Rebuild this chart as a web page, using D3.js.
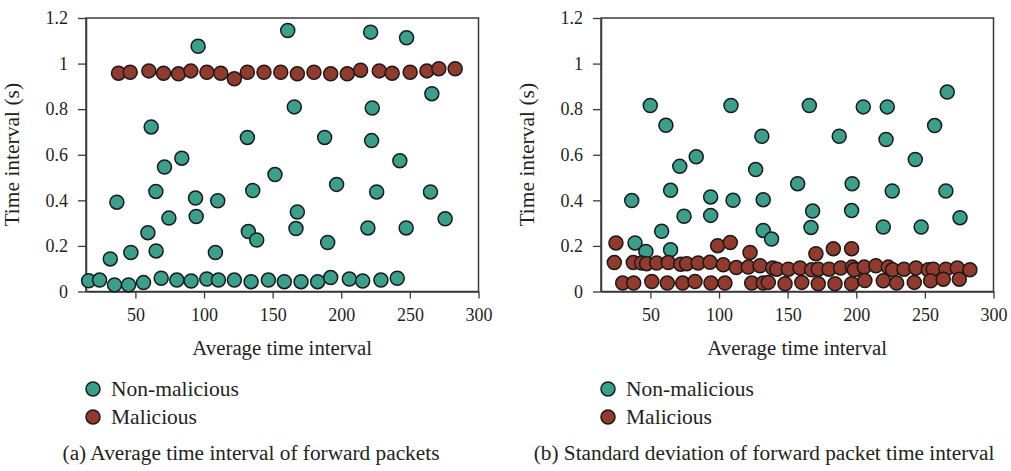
<!DOCTYPE html>
<html>
<head>
<meta charset="utf-8">
<script src="https://cdn.jsdelivr.net/npm/d3@7"></script>
<style>
  body { margin: 0; background: #fff; }
</style>
</head>
<body>
<div id="chart"></div>
<script>
// x: average time interval, y: time interval (s)
const aNonMalicious = [
  [15.9, .047], [23.9, .05], [31.7, .143], [34.8, .029], [36.5, .392], [45, .029], [46.7, .171],
  [55.9, .039], [59.1, .258], [61.5, .722], [64.9, .439], [65.1, .178], [68.8, .058], [71.2, .546],
  [74.4, .322], [80.2, .05], [83.8, .585], [90.6, .046], [93.8, .41], [94.3, .329], [95.7, 1.076],
  [102, .055], [108.3, .171], [110, .398], [110.5, .05], [122.1, .05], [131.6, .676], [132.3, .263],
  [134.3, .043], [135.5, .443], [138.4, .226], [146.9, .05], [151.7, .513], [158.5, .043],
  [161, 1.145], [165.8, .81], [167, .276], [168, .349], [170.7, .043], [182.8, .043], [187.9, .676],
  [190.1, .215], [192.3, .061], [196.6, .47], [205.9, .055], [215.6, .046], [219.4, .279],
  [221.4, 1.138], [222.1, .662], [222.6, .805], [225.8, .437], [228.9, .05], [240.8, .058],
  [242.7, .574], [247.3, .279], [247.6, 1.113], [265, .437], [266, .868], [275.7, .319]
];
const aMalicious = [
  [37.7, .958], [46.2, .962], [59.8, .968], [70.5, .958], [81.4, .955], [90.4, .968], [102.1, .962],
  [112.2, .958], [122.1, .933], [131.6, .962], [143.7, .962], [155.9, .962], [168, .955],
  [180.1, .962], [192.3, .955], [204.4, .955], [214.1, .971], [227.7, .968], [237.1, .958],
  [250.2, .962], [262.4, .968], [271.1, .977], [283, .977]
];
const bNonMalicious = [
  [36.4, .399], [38.8, .213], [46.7, .176], [49.9, .816], [58.2, .264], [61.3, .729], [64.7, .183],
  [64.7, .444], [71.4, .549], [74.5, .33], [83.4, .591], [93.9, .415], [93.9, .334], [108.7, .816],
  [110.2, .4], [126.7, .535], [131.2, .681], [132.2, .403], [132.2, .268], [138.3, .23],
  [157.3, .473], [165.8, .816], [167, .281], [168.2, .353], [187.6, .681], [196.6, .355],
  [197, .473], [205.1, .81], [219.7, .283], [221.7, .667], [222.6, .81], [226.2, .441],
  [243, .579], [247.3, .283], [257.1, .728], [265.3, .441], [266.3, .875], [275.6, .324]
];
const bMalicious = [
  [24.9, .213], [99, .201], [108.2, .215], [122.6, .171], [170.6, .166], [183.3, .188], [196.6, .188],
  [23.7, .127], [37.5, .127], [43.6, .125], [47.2, .122], [54.6, .125], [63, .127], [72.1, .12],
  [76.4, .122], [84.8, .125], [93.4, .128], [103.1, .117], [112.6, .105], [121.3, .107],
  [129.9, .113], [139.1, .103], [142.1, .098], [150.5, .098], [159, .103], [167.5, .095],
  [172.3, .098], [180.2, .098], [188.6, .103], [197.1, .107], [198.6, .095], [205.8, .107],
  [214.3, .113], [223.3, .107], [226.5, .095], [234.8, .098], [243.5, .103], [252.5, .095],
  [256.1, .098], [265.3, .098], [273.6, .103], [282.8, .095],
  [29.8, .037], [37.8, .037], [51, .044], [62.3, .037], [73.5, .037], [82.5, .044], [94.1, .037],
  [104.3, .037], [123.8, .037], [132.2, .037], [135.9, .04], [148.1, .034], [160.3, .04],
  [172.3, .034], [184.5, .034], [196.6, .034], [206.3, .048], [219.7, .047], [229.4, .037],
  [242.3, .04], [254.2, .047], [263.4, .054], [275.1, .054]
];

const xTicks = [50, 100, 150, 200, 250, 300];
const yTicks = [0, 0.2, 0.4, 0.6, 0.8, 1, 1.2];
const seriesNames = ["Non-malicious", "Malicious"];
const seriesColors = ["#3a9f8b", "#933a2e"];
const captions = [
  "(a) Average time interval of forward packets",
  "(b) Standard deviation of forward packet time interval"
];

const font = "'Liberation Serif', 'DejaVu Serif', serif";
const ink = "#231f20";

const width = 1011;
const height = 471;
const svg = d3.select("#chart").append("svg")
  .attr("width", width)
  .attr("height", height)
  .attr("font-family", font);
svg.append("rect").attr("width", width).attr("height", height).attr("fill", "#fff");

const panelW = 392.5;
const plotTop = 18;
const plotBottom = 291.5;
const r = 7;

function label(x, y, size, txt, anchor) {
  return svg.append("text")
    .attr("x", x).attr("y", y)
    .attr("font-family", font)
    .attr("font-size", size)
    .attr("fill", ink)
    .attr("text-anchor", anchor || "start")
    .text(txt);
}

function drawPanel(left, nonMal, mal, caption, captionX) {
  const x = d3.scaleLinear().domain([14, 300]).range([left, left + panelW]);
  const y = d3.scaleLinear().domain([0, 1.2]).range([plotBottom, plotTop]);

  // frame
  svg.append("rect")
    .attr("x", left).attr("y", plotTop)
    .attr("width", panelW).attr("height", plotBottom - plotTop)
    .attr("fill", "none").attr("stroke", "#3a3a3a").attr("stroke-width", 1.5);

  const yAxis = svg.append("g")
    .attr("transform", `translate(${left},0)`)
    .call(d3.axisLeft(y).tickValues(yTicks).tickFormat(d3.format("~g"))
      .tickSize(8).tickSizeOuter(0).tickPadding(10));
  const xAxis = svg.append("g")
    .attr("transform", `translate(0,${plotBottom})`)
    .call(d3.axisBottom(x).tickValues(xTicks).tickSize(7).tickSizeOuter(0).tickPadding(10));
  [xAxis, yAxis].forEach(ax => {
    ax.attr("font-family", font).attr("font-size", 18);
    ax.select(".domain").attr("stroke", "#3a3a3a").attr("stroke-width", 1.5);
    ax.selectAll(".tick line").attr("stroke", "#3a3a3a").attr("stroke-width", 1.3);
    ax.selectAll(".tick text").attr("fill", ink);
  });

  label(0, 0, 21.5, "Time interval (s)", "middle")
    .attr("x", null).attr("y", null)
    .attr("transform", `translate(${left - 67},${(plotTop + plotBottom) / 2}) rotate(-90)`);

  label(left + panelW / 2, 355, 20.8, "Average time interval", "middle");

  [nonMal, mal].forEach((data, i) => {
    svg.append("g").selectAll("circle")
      .data(data)
      .join("circle")
      .attr("cx", d => x(d[0]))
      .attr("cy", d => y(d[1]))
      .attr("r", r)
      .attr("fill", seriesColors[i])
      .attr("stroke", "#1a1a1a")
      .attr("stroke-width", 1.5);
  });

  // legend
  seriesNames.forEach((name, i) => {
    svg.append("circle")
      .attr("cx", left + 7).attr("cy", 389 + i * 28)
      .attr("r", r)
      .attr("fill", seriesColors[i])
      .attr("stroke", "#1a1a1a")
      .attr("stroke-width", 1.5);
    label(left + 25, 389 + i * 28 + 6.5, 21.5, name);
  });

  label(captionX, 460, 21.3, caption, "middle");
}

drawPanel(86, aNonMalicious, aMalicious, captions[0], 251);
drawPanel(601, bNonMalicious, bMalicious, captions[1], 764);
</script>
</body>
</html>
